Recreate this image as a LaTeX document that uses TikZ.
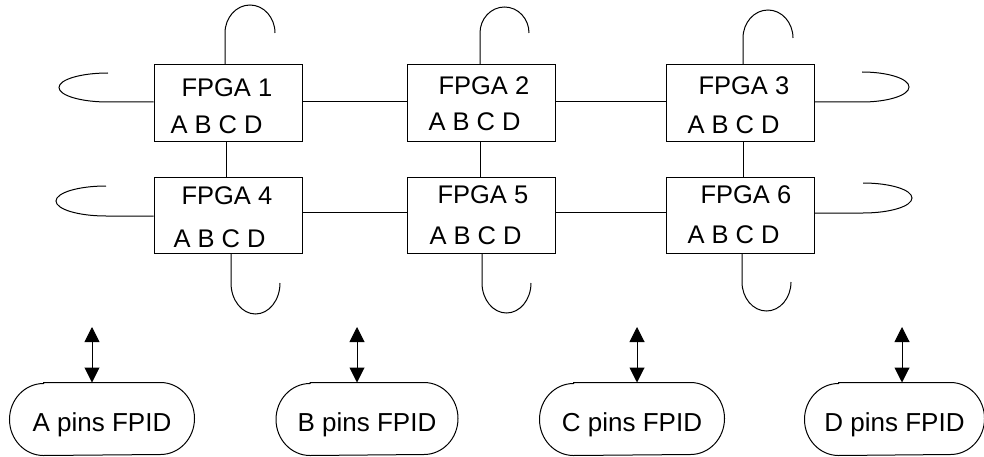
\documentclass[tikz,border=0pt]{standalone}
\usepackage{fontspec}
\setmainfont{Liberation Sans}
\usetikzlibrary{arrows.meta}
\begin{document}
\begin{tikzpicture}[x=1pt,y=1pt,line width=1pt,
  fpga/.style={draw, minimum width=148pt, minimum height=76pt, inner sep=0pt},
  lbl/.style={anchor=base west, inner sep=0pt, font=\fontsize{25.5}{30}\selectfont},
  pill/.style={minimum width=#1, minimum height=72pt, inner sep=0pt,
               text height=24pt, text depth=0pt, font=\fontsize{26}{30}\selectfont},
  biarrow/.style={{Triangle[length=15pt,width=15pt]}-{Triangle[length=15pt,width=15pt]}}]

\path[fill=white] (0,0) rectangle (984,456);
\useasboundingbox (0,0) rectangle (984,456);

% FPGA array
\node[fpga] (b1) at (228,353) {};
\node[fpga] (b2) at (481.5,353) {};
\node[fpga] (b3) at (740,353) {};
\node[fpga] (b4) at (228,241) {};
\node[fpga] (b5) at (481.5,241) {};
\node[fpga] (b6) at (740,241) {};

% labels inside the FPGAs
\node[lbl] (t1) at (181,359) {FPGA 1};
\node[lbl] (a1) at (170,323) {A B C D};
\node[lbl] (t2) at (438,361) {FPGA 2};
\node[lbl] (a2) at (428,325.5) {A B C D};
\node[lbl] (t3) at (698,361) {FPGA 3};
\node[lbl] (a3) at (687,323) {A B C D};
\node[lbl] (t4) at (181,252) {FPGA 4};
\node[lbl] (a4) at (173,209) {A B C D};
\node[lbl] (t5) at (437,253) {FPGA 5};
\node[lbl] (a5) at (429,212) {A B C D};
\node[lbl] (t6) at (700,253) {FPGA 6};
\node[lbl] (a6) at (687,213) {A B C D};

% mesh links
\draw ([yshift=1pt]b1.east) -- ([yshift=1pt]b2.west);
\draw ([yshift=1pt]b2.east) -- ([yshift=1pt]b3.west);
\draw ([yshift=3pt]b4.east) -- ([yshift=3pt]b5.west);
\draw ([yshift=3pt]b5.east) -- ([yshift=3pt]b6.west);
\draw ([xshift=-2pt]b1.south) -- ([xshift=-2pt]b4.north);
\draw ([xshift=-1.5pt]b2.south) -- ([xshift=-1.5pt]b5.north);
\draw ([xshift=3pt]b3.south) -- ([xshift=3pt]b6.north);

% open loops on the edge pins
\coordinate (u1) at (225,423);
\coordinate (u2) at (480,423);
\coordinate (u3) at (743,418);
\draw (b1.north -| u1) -- (u1) arc[start angle=180,end angle=0,x radius=25,y radius=28];
\draw (b2.north -| u2) -- (u2) arc[start angle=180,end angle=0,x radius=24.5,y radius=26];
\draw (b3.north -| u3) -- (u3) arc[start angle=180,end angle=0,x radius=25,y radius=28];

\coordinate (w1) at (108,354);
\coordinate (w4) at (106,240);
\draw (b1.west |- w1) -- (w1) arc[start angle=270,end angle=90,x radius=49,y radius=14.5];
\draw (b4.west |- w4) -- (w4) arc[start angle=270,end angle=90,x radius=50,y radius=15];

\coordinate (e3) at (862,354);
\coordinate (e6) at (863,243);
\draw (b3.east |- e3) -- (e3) arc[start angle=-90,end angle=90,x radius=47,y radius=15];
\draw (b6.east |- e6) -- (e6) arc[start angle=-90,end angle=90,x radius=49,y radius=15];

\coordinate (d4) at (231,173);
\coordinate (d5) at (482,173);
\coordinate (d6) at (742,174);
\draw (b4.south -| d4) -- (d4) arc[start angle=180,end angle=360,x radius=24.5,y radius=31];
\draw (b5.south -| d5) -- (d5) arc[start angle=180,end angle=360,x radius=24.5,y radius=30];
\draw (b6.south -| d6) -- (d6) arc[start angle=180,end angle=360,x radius=24.5,y radius=29];

% FPIDs
\node[pill=184pt] (pa) at (102,37) {A pins FPID};
\node[pill=181pt] (pb) at (367,37) {B pins FPID};
\node[pill=184pt] (pc) at (632,37) {C pins FPID};
\node[pill=179pt] (pd) at (894.5,37) {D pins FPID};
\foreach \p in {pa,pb,pc,pd}
  \draw ([xshift=34pt]\p.north west) -- ([xshift=-34pt]\p.north east)
        arc[start angle=90,end angle=-90,x radius=34,y radius=36]
        -- ([xshift=34pt]\p.south west)
        arc[start angle=270,end angle=90,x radius=34,y radius=36] -- cycle;

% pin connections
\coordinate (ka) at (92,129);
\coordinate (kb) at (357,129);
\coordinate (kc) at (637,129);
\coordinate (kd) at (902,129);
\draw[biarrow] (ka) -- (pa.north -| ka);
\draw[biarrow] (kb) -- (pb.north -| kb);
\draw[biarrow] (kc) -- (pc.north -| kc);
\draw[biarrow] (kd) -- (pd.north -| kd);
\end{tikzpicture}
\end{document}
